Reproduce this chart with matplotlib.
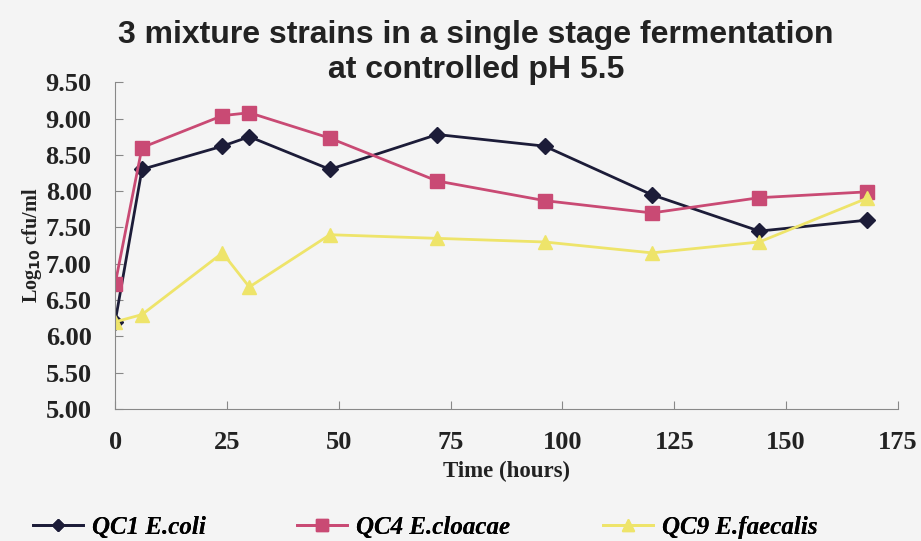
import matplotlib.pyplot as plt

# 采样时间 (h) 与三株菌的 log10 cfu/ml
hours = [0, 6, 24, 30, 48, 72, 96, 120, 144, 168]
ecoli = [6.20, 8.30, 8.62, 8.75, 8.30, 8.78, 8.62, 7.95, 7.45, 7.60]
ecloacae = [6.72, 8.60, 9.04, 9.08, 8.73, 8.14, 7.87, 7.70, 7.91, 7.99]
efaecalis = [6.20, 6.30, 7.15, 6.68, 7.40, 7.35, 7.30, 7.15, 7.30, 7.90]
labels = ["QC1 E.coli", "QC4 E.cloacae", "QC9 E.faecalis"]

bg = "#f4f4f4"
fig = plt.figure(figsize=(9.21, 5.41), dpi=100, facecolor=bg)
ax = fig.add_axes([0.125, 0.244, 0.85, 0.604], facecolor=bg)

l1, = ax.plot(hours, ecoli, color="#1c1c38", marker="D", markersize=8, lw=2)
l2, = ax.plot(hours, ecloacae, color="#c94a74", marker="s", markersize=10, lw=2)
l3, = ax.plot(hours, efaecalis, color="#eee46a", marker="^", markersize=10, lw=2)

ax.set_xlim(0, 175)
ax.set_ylim(5.0, 9.5)
ax.set_xticks(range(0, 176, 25))
ax.set_yticks([5.0 + 0.5 * i for i in range(10)])
ax.set_yticklabels(["%.2f" % (5.0 + 0.5 * i) for i in range(10)])
for s in ["top", "right"]:
    ax.spines[s].set_visible(False)
for s in ["left", "bottom"]:
    ax.spines[s].set_color("#888888")
ax.tick_params(direction="in", colors="#888888", length=6)
ax.tick_params(axis="y", pad=17)
ax.tick_params(axis="x", pad=16)
for t in ax.get_xticklabels() + ax.get_yticklabels():
    t.set_fontfamily("Liberation Serif")
    t.set_fontweight("bold")
    t.set_fontsize(19)
    t.set_color("#222222")

ax.set_xlabel("Time (hours)", family="Liberation Serif", weight="bold", fontsize=16.5, color="#222222", labelpad=5)
ax.set_ylabel(r"Log$_{\mathbf{10}}$ cfu/ml", family="Liberation Serif", weight="bold", fontsize=14.5, color="#222222", labelpad=1)

fig.text(0.517, 0.903, "3 mixture strains in a single stage fermentation\nat controlled pH 5.5",
         ha="center", va="center", family="Liberation Sans", weight="bold", fontsize=23,
         color="#222222", linespacing=1.22)

# 图例分三处摆放
leg_font = {"family": "Liberation Serif", "weight": "bold", "style": "italic", "size": 18}
for line, lab, x0 in zip([l1, l2, l3], labels, [33 / 921, 297 / 921, 603 / 921]):
    lg = fig.legend([line], [lab], loc="lower left", bbox_to_anchor=(x0, 0.004), frameon=False,
                    borderpad=0, borderaxespad=0, handlelength=2.0, handletextpad=0.35,
                    prop=leg_font, markerscale=0.8)
    fig.add_artist(lg)

fig.savefig("out.png", dpi=100, facecolor=bg)
